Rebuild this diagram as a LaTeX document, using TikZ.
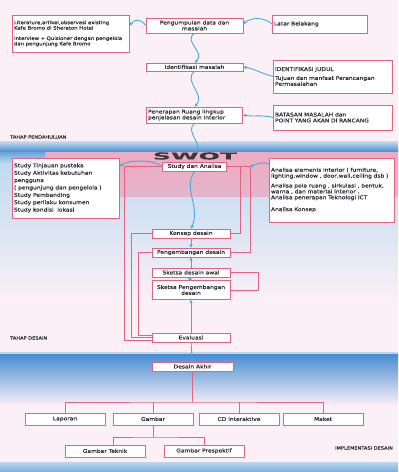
\documentclass[tikz,border=0pt]{standalone}
\usepackage{fontspec}
\setmainfont[FakeStretch=1.15,FakeBold=0.3]{DejaVu Sans}
\usetikzlibrary{arrows.meta}
\definecolor{boxc}{RGB}{226,100,130}
\definecolor{txt}{RGB}{45,45,52}
\definecolor{arr}{RGB}{70,170,220}
\definecolor{bandb}{RGB}{70,140,210}
\definecolor{lblue}{RGB}{185,216,240}
\definecolor{pinkbg}{RGB}{240,170,192}
\definecolor{pagebg}{RGB}{250,240,246}
\newcommand\fs{\fontsize{5.2}{5.9}\selectfont}
\newcommand\fsw{\fontsize{4.7}{5.4}\selectfont}
\newcommand\fsb{\fontsize{5.2}{7.4}\selectfont}
\newcommand\fl{\fontsize{4.4}{5}\selectfont}
\begin{document}
\begin{tikzpicture}[x=1bp,y=-1bp,
  every node/.style={text=txt},
  box/.style={draw=boxc, line width=0.7bp, fill=white, inner sep=1.5bp, font=\fs, align=center},
  lbox/.style={box, align=left},
  midbox/.style={box, minimum width=78bp, minimum height=9bp, inner sep=0.8bp},
  resbox/.style={box, minimum width=80bp, minimum height=12bp},
  loopline/.style={draw=boxc, line width=0.8bp},
  flow/.style={draw=arr, line width=0.9bp, -{Stealth[length=3.5bp,width=3.2bp]}},
  lab/.style={font=\fl, inner sep=0pt, anchor=west}]
\useasboundingbox (0,0) rectangle (398,472);
% ---------- backgrounds
\fill[pagebg] (0,0) rectangle (398,472);
\shade[top color=lblue, bottom color=pagebg] (0,150) rectangle (398,300);
\shade[top color=pinkbg, bottom color=pinkbg!75!lblue] (45,151) rectangle (398,197);
\shade[top color=bandb!80, bottom color=lblue] (0,152) rectangle (45,163);
\shade[top color=lblue, bottom color=bandb] (0,142) rectangle (398,152);
\shade[top color=bandb, bottom color=pagebg] (0,354) rectangle (398,405);
\fill[lblue] (0,352) rectangle (398,354);
\shade[top color=lblue, bottom color=bandb!70] (0,462) rectangle (398,472);
% ---------- top section
\node[lbox, font=\fsw, text width=114bp, minimum height=37bp] (lit) at (71,33.5)
  {Literature,artikel,observasi existing\\Kafe Bromo di Sheraton Hotel\\[5bp]Interview + Quisioner dengan pengelola\\dan pengunjung Kafe Bromo};
\node[box, minimum width=97bp, minimum height=15bp] (peng) at (194.5,25.5) {Pengumpulan data dan\\masalah};
\node[lbox, text width=92bp, minimum height=18bp] (latar) at (320,24) {Latar Belakang};
\node[box, minimum width=97bp, minimum height=8bp, inner sep=0.8bp] (ident) at (194.5,67) {Identifikasi masalah};
\node[lbox, text width=116bp, minimum height=33bp] (idjud) at (333,76.5)
  {IDENTIFIKASI JUDUL\\[3bp]Tujuan dan manfaat Perancangan\\Permasalahan};
\node[lbox, text width=93bp, minimum height=16bp] (pener) at (194.5,115) {Penerapan Ruang lingkup\\penjelasan desain Interior};
\node[lbox, text width=116bp, minimum height=25bp] (batas) at (333,117.5)
  {BATASAN MASALAH dan\\POINT YANG AKAN DI RANCANG};
\node[lab] (lp) at (10,137) {TAHAP PENDAHULUAN};
% top arrows
\draw[flow] (peng.west) .. controls +(-5,-7) and +(5,-7) .. (lit.east |- peng.west);
\draw[flow] (latar.west) .. controls +(-8,-7) and +(8,-7) .. (peng.east |- latar.west);
\draw[flow] (peng.south) .. controls +(-12,8) and +(12,-10) .. (ident.north);
\draw[flow] (ident.south) .. controls +(-12,10) and +(12,-12) .. (pener.north);
\draw[flow] (idjud.west) .. controls +(-12,-3) and +(12,2) .. (ident.east);
\draw[flow] (batas.west) .. controls +(-12,-3) and +(12,2) .. (pener.east);
% ---------- middle section
\node[font={\fontsize{9.5}{10}\bfseries}, text=black!78, inner sep=0pt] (swot) at (195,156) {\scalebox{2.3}[1]{SWOT}};
\draw[flow] (pener.south) .. controls +(-10,8) and +(8,-8) .. (swot.north);
\node[box, minimum width=64bp, minimum height=9bp, inner sep=0.8bp] (study) at (194.5,166.5) {Study dan Analisa};
\node[lbox, font=\fsb, text width=104bp, minimum height=60bp] (stL) at (66,188)
  {Study Tinjauan pustaka\\Study Aktivitas kebutuhan\\pengguna\\( pengunjung dan pengelola )\\Study Pembanding\\Study perilaku konsumen\\Study kondisi\ \ lokasi};
\node[lbox, text width=122bp, minimum height=64bp] (anR) at (332,190)
  {Analisa elemenis interior ( furniture,\\lighting,window , door,wall,ceiling dsb )\\[4bp]Analisa pola ruang , sirkulasi , bentuk,\\warna , dan material interior .\\Analisa penerapan Teknologi ICT\\[6bp]Analisa Konsep};
\node[midbox] (konsep) at (191,233.5) {Konsep desain};
\node[midbox] (pengem) at (191,252.5) {Pengembangan desain};
\node[midbox] (sketsaA) at (191,272.5) {Sketsa desain awal};
\node[midbox, minimum height=19bp] (sketsaP) at (191,290) {Sketsa Pengembangan\\desain};
\node[midbox] (eval) at (191,337.5) {Evaluasi};
\node[lab] (tdes) at (10,338) {TAHAP DESAIN};
\coordinate (rc) at (250,166.5);
% loop lines
\draw[loopline] (study.west) -- ++(-38,0) |- ([yshift=-2.5bp]eval.west);
\draw[loopline] (konsep.west) -- ++(-20,0) |- (eval.west);
\draw[loopline] (pengem.west) -- ++(-13,0) |- ([yshift=2.5bp]eval.west);
\draw[loopline] (study.east) -- (rc) |- (pengem.east);
\draw[loopline] (konsep.east) -| (240,166.5);
\draw[loopline] (sketsaA.east) -- (258,272.5) |- (sketsaP.east);
% middle arrows
\draw[flow] (study.west) .. controls +(-8,-7) and +(8,-7) .. (stL.east |- study.west);
\draw[flow] (anR.west |- 0,164) .. controls +(-8,-3) and +(6,-2) .. (rc);
\draw[flow] (study.south) .. controls +(-12,18) and +(10,-22) .. (konsep.north);
\draw[flow] (konsep.south) -- (pengem.north);
\draw[flow] (sketsaA.north) -- (pengem.south);
\draw[flow] ([xshift=-4bp]sketsaA.south) -- ([xshift=1bp]sketsaP.north);
\draw[flow] (eval.north) -- (sketsaP.south);
% ---------- bottom section
\node[box, minimum width=81bp, minimum height=9bp, inner sep=0.8bp] (akhir) at (192.5,366.5) {Desain Akhir};
\draw[flow] (eval.south) -- (akhir.north);
\node[resbox] (lap) at (65,419) {Laporan};
\node[resbox] (gam) at (153,419) {Gambar};
\node[resbox] (cd) at (239,419) {CD Interaktive};
\node[resbox] (mak) at (323,419) {Maket};
\coordinate (bar) at (192.5,402);
\draw[loopline] (akhir.south) -- (bar);
\draw[loopline] (lap.north) |- (bar) -| (mak.north);
\draw[loopline] (gam.north) -- (gam.north |- bar);
\draw[loopline] (cd.north) -- (cd.north |- bar);
\node[resbox] (gt) at (105,451) {Gambar Teknik};
\node[resbox] (gp) at (204,451) {Gambar Prespektif};
\coordinate (bar2) at (153,437);
\draw[loopline] (gam.south) -- (bar2);
\draw[loopline] ([xshift=8bp]gt.north) |- (bar2) -| (gp.north);
\node[lab, anchor=east] (impl) at (393,448) {IMPLEMENTASI DESAIN};
\end{tikzpicture}
\end{document}
